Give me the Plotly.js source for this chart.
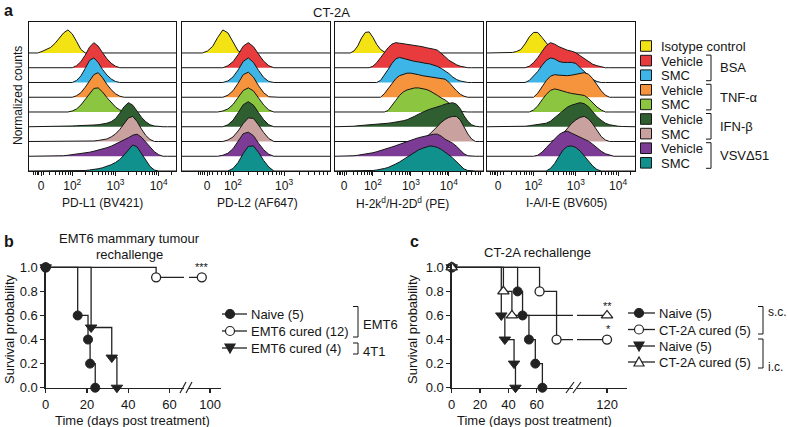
<!DOCTYPE html>
<html><head><meta charset="utf-8">
<script src="https://cdn.plot.ly/plotly-3.0.1.min.js"></script>
<style>html,body{margin:0;padding:0;background:#fff}</style>
</head><body><div id="chart" style="width:788px;height:427px"></div>
<script>
// ---------- Panel a: flow cytometry histograms (normalized counts, % of max) ----------
const rowLabels = ['Isotype control','Vehicle','SMC','Vehicle','SMC','Vehicle','SMC','Vehicle','SMC'];
const treatments = ['BSA','TNF-α','IFN-β','VSVΔ51'];
const rowColors = ['#f3e314','#e73b3e','#3db5e6','#f6933d','#8cc540','#2f5f30','#c9a19e','#7c3c95','#11918d'];
const markerNames = ['PD-L1 (BV421)','PD-L2 (AF647)','H-2k<sup>d</sup>/H-2D<sup>d</sup> (PE)','I-A/I-E (BV605)'];
const tickText = ['0','10<sup>2</sup>','10<sup>3</sup>','10<sup>4</sup>'];

// bins in decades of fluorescence (10^bin)
const pdl1Bins = [1.0,1.1,1.2,1.3,1.4,1.5,1.6,1.7,1.8,1.9,2.0,2.1,2.2,2.3,2.4,2.5,2.6,2.7,2.8,2.9,3.0,3.1,3.2,3.3,3.4,3.5,3.6,3.7,3.8,3.9,4.0,4.1,4.2,4.3,4.4];
const pdl1Counts = [
 [0,0,0,6,14,22,38,58,80,92,76,46,14,0,0,0,0,0,0,0,0,0,0,0,0,0,0,0,0,0,0,0,0,0,0],
 [0,0,0,0,0,0,0,0,0,0,0,8,24,50,82,100,86,60,36,18,6,0,0,0,0,0,0,0,0,0,0,0,0,0,0],
 [0,0,0,0,0,0,0,0,0,0,0,8,26,56,88,98,80,52,30,14,4,0,0,0,0,0,0,0,0,0,0,0,0,0,0],
 [0,0,0,0,0,0,0,0,0,0,0,6,18,40,66,90,98,78,52,30,14,4,0,0,0,0,0,0,0,0,0,0,0,0,0],
 [0,0,0,0,0,0,0,0,0,0,4,12,28,50,76,94,96,80,58,38,20,8,2,0,0,0,0,0,0,0,0,0,0,0,0],
 [0,0,0,0,0,0,0,2,2,3,3,4,4,5,6,7,8,10,14,20,32,54,80,96,86,62,38,20,8,3,0,0,0,0,0],
 [0,0,0,0,0,0,0,0,0,0,0,0,0,0,0,2,4,6,10,18,30,48,72,94,100,80,50,24,8,0,0,0,0,0,0],
 [0,0,0,0,0,0,0,0,2,4,6,8,10,13,16,20,24,28,34,40,48,56,64,74,84,88,76,56,34,18,6,0,0,0,0],
 [0,0,0,0,0,0,0,0,0,0,0,0,1,2,4,6,9,13,18,25,34,46,64,86,104,96,70,42,18,4,0,0,0,0,0]
];
const pdl2Bins = [1.0,1.1,1.2,1.3,1.4,1.5,1.6,1.7,1.8,1.9,2.0,2.1,2.2,2.3,2.4,2.5,2.6,2.7,2.8,2.9,3.0,3.1,3.2,3.3,3.4,3.5,3.6,3.7,3.8,3.9];
const pdl2Counts = [
 [0,0,0,0,0,8,26,62,92,80,44,8,0,0,0,0,0,0,0,0,0,0,0,0,0,0,0,0,0,0],
 [0,0,0,0,0,0,0,0,0,8,24,52,86,100,84,54,26,8,0,0,0,0,0,0,0,0,0,0,0,0],
 [0,0,0,0,0,0,0,0,0,6,22,50,84,98,80,48,20,4,0,0,0,0,0,0,0,0,0,0,0,0],
 [0,0,0,0,0,0,0,0,0,8,26,56,90,100,80,46,18,2,0,0,0,0,0,0,0,0,0,0,0,0],
 [0,0,0,0,0,0,0,0,4,12,30,58,86,96,84,56,28,8,0,0,0,0,0,0,0,0,0,0,0,0],
 [0,0,0,0,0,0,0,0,0,8,26,56,88,100,86,56,28,8,0,0,0,0,0,0,0,0,0,0,0,0],
 [0,0,0,0,0,0,0,0,0,6,18,42,72,94,92,66,36,12,0,0,0,0,0,0,0,0,0,0,0,0],
 [0,0,0,0,0,0,0,0,4,12,30,60,90,96,82,52,26,8,0,0,0,0,0,0,0,0,0,0,0,0],
 [0,0,0,0,0,0,0,0,0,0,10,34,70,98,100,74,42,16,0,0,0,0,0,0,0,0,0,0,0,0]
];
const h2Bins = [1.0,1.1,1.2,1.3,1.4,1.5,1.6,1.7,1.8,1.9,2.0,2.1,2.2,2.3,2.4,2.5,2.6,2.7,2.8,2.9,3.0,3.1,3.2,3.3,3.4,3.5,3.6,3.7,3.8,3.9,4.0,4.1,4.2,4.3,4.4,4.5,4.6,4.7,4.8,4.9];
const h2Counts = [
 [0,0,0,0,0,8,28,60,82,84,62,34,14,4,0,0,0,0,0,0,0,0,0,0,0,0,0,0,0,0,0,0,0,0,0,0,0,0,0,0],
 [0,0,0,0,0,0,0,0,0,0,6,20,40,60,80,94,100,98,96,92,90,88,86,84,80,78,74,70,58,44,30,20,12,6,2,0,0,0,0,0],
 [0,0,0,0,0,0,0,0,0,0,0,0,8,28,52,76,94,100,96,90,86,84,82,78,76,74,70,64,56,46,36,22,12,6,2,0,0,0,0,0],
 [0,0,0,0,0,0,0,0,0,0,0,0,0,14,34,56,74,86,92,96,96,94,90,86,84,82,80,78,76,72,60,42,26,12,4,0,0,0,0,0],
 [0,0,0,0,0,0,0,0,0,0,0,0,0,0,6,24,46,66,80,88,92,96,96,94,90,84,76,66,56,48,36,20,8,2,0,0,0,0,0,0],
 [0,0,0,0,0,2,4,5,6,7,8,9,10,12,14,16,18,21,24,28,34,42,50,58,64,70,74,80,84,90,94,96,90,72,44,22,8,2,0,0],
 [0,0,0,0,0,0,0,0,0,0,0,0,0,0,0,0,0,0,0,0,0,0,4,10,18,30,46,62,76,88,96,100,100,86,60,30,10,0,0,0],
 [0,0,0,0,0,2,4,6,8,11,14,18,22,27,32,37,42,48,54,59,64,69,74,78,82,86,88,88,80,68,60,52,40,24,10,2,0,0,0,0],
 [0,0,0,0,0,0,0,0,0,1,2,4,6,10,14,20,28,36,46,56,66,76,84,90,96,100,98,94,86,76,64,52,38,22,8,2,0,0,0,0]
];
const iaBins = [0.9,1.0,1.1,1.2,1.3,1.4,1.5,1.6,1.7,1.8,1.9,2.0,2.1,2.2,2.3,2.4,2.5,2.6,2.7,2.8,2.9,3.0,3.1,3.2,3.3,3.4,3.5,3.6,3.7,3.8,3.9,4.0,4.1,4.2,4.3,4.4];
const iaCounts = [
 [0,0,0,0,0,0,2,6,14,36,64,82,82,62,40,20,6,0,0,0,0,0,0,0,0,0,0,0,0,0,0,0,0,0,0,0],
 [0,0,0,0,0,0,0,0,0,0,6,20,40,64,88,100,94,84,76,70,66,60,48,36,24,14,8,4,0,0,0,0,0,0,0,0],
 [0,0,0,0,0,0,0,0,0,0,8,24,44,68,88,98,94,84,80,80,80,76,60,40,24,12,4,0,0,0,0,0,0,0,0,0],
 [0,0,0,0,0,0,0,0,0,0,0,0,16,40,66,84,90,88,86,86,88,92,96,98,92,74,50,26,8,0,0,0,0,0,0,0],
 [0,0,0,0,0,0,0,0,0,0,0,8,24,48,70,86,92,88,82,78,74,72,70,66,54,36,20,8,0,0,0,0,0,0,0,0],
 [0,0,0,0,0,0,0,0,0,2,4,6,8,11,14,22,36,52,66,78,86,92,96,92,80,60,40,26,14,8,4,2,1,0,0,0],
 [0,0,0,0,0,0,0,0,0,0,0,0,0,0,0,0,6,16,32,54,72,86,96,100,90,70,44,20,6,0,0,0,0,0,0,0],
 [0,0,0,0,0,0,0,0,0,0,0,0,4,16,34,52,70,86,96,100,92,84,76,70,60,48,34,20,10,4,0,0,0,0,0,0],
 [0,0,0,0,0,0,0,0,0,0,0,0,0,0,0,10,30,58,84,98,100,94,80,60,38,20,6,0,0,0,0,0,0,0,0,0]
];

// ---------- Panel b: EMT6 rechallenge (Kaplan-Meier) ----------
const bNaiveDays = [0, 15.5, 20.5, 21.5, 24];
const bNaiveSurv = [1, 0.6, 0.4, 0.2, 0];
const bCured12Days = [0, 53.5, 96];
const bCured12Surv = [1, 0.917, 0.917];
const bCured4Days = [0, 22, 32, 34.5];
const bCured4Surv = [1, 0.5, 0.25, 0];
const bLegendNames = ['Naive (5)', 'EMT6 cured (12)', 'EMT6 cured (4)'];

// ---------- Panel c: CT-2A rechallenge ----------
const cNaiveScDays = [0, 46.5, 50, 54.5, 59, 64];
const cNaiveScSurv = [1, 0.8, 0.6, 0.4, 0.2, 0];
const cCuredScDays = [0, 62, 74, 120];
const cCuredScSurv = [1, 0.8, 0.4, 0.4];
const cNaiveIcDays = [0, 35, 37.5, 44, 45];
const cNaiveIcSurv = [1, 0.6, 0.4, 0.2, 0];
const cCuredIcDays = [0, 36.5, 42.5, 120];
const cCuredIcSurv = [1, 0.8, 0.6, 0.6];
const cLegendNames = ['Naive (5)', 'CT-2A cured (5)', 'Naive (5)', 'CT-2A cured (5)'];

// ================= drawing =================
const W = 788, H = 427;
const px = x => x / W;
const py = y => 1 - y / H;
const FONT = 'Liberation Sans, Arial, Helvetica, sans-serif';
const INK = '#151515';

const traces = [];
const shapes = [];
const annotations = [];
const layout = {
  width: W, height: H, margin: {l: 0, r: 0, t: 0, b: 0},
  paper_bgcolor: '#fff', plot_bgcolor: 'rgba(0,0,0,0)',
  font: {family: FONT, size: 13, color: INK},
  showlegend: false, hovermode: false
};

function ann(text, x, y, opts) {
  annotations.push(Object.assign({text, x: px(x), y: py(y), xref: 'paper', yref: 'paper',
    showarrow: false, xanchor: 'center', yanchor: 'middle', font: {size: 13, color: INK}}, opts || {}));
}

// panel a layout
const panelsA = [
  {bins: pdl1Bins, counts: pdl1Counts, left: 29, right: 176, range: [1.0, 4.4], zero: 1.28, titleX: 102},
  {bins: pdl2Bins, counts: pdl2Counts, left: 182, right: 330, range: [1.0, 3.9], zero: 1.49, titleX: 257},
  {bins: h2Bins, counts: h2Counts, left: 335, right: 483, range: [1.0, 4.9], zero: 1.24, titleX: 402},
  {bins: iaBins, counts: iaCounts, left: 487, right: 635, range: [0.9, 4.4], zero: 1.16, titleX: 566}
];
const ridgeScale = 1.7 / 100, nRows = 9;
panelsA.forEach((p, pi) => {
  const s = pi === 0 ? '' : String(pi + 1);
  p.counts.forEach((row, ri) => {
    const base = nRows - 1 - ri;
    traces.push({type: 'scatter', mode: 'lines', x: p.bins, y: row.map(v => base + v * ridgeScale),
      fill: 'toself', fillcolor: rowColors[ri], line: {color: INK, width: 1},
      xaxis: 'x' + s, yaxis: 'y' + s, showlegend: false, hoverinfo: 'skip', name: rowLabels[ri]});
  });
  const major = [p.zero, 2, 3, 4].filter(v => v <= p.range[1]);
  const minor = [];
  for (let n = 1; n <= 4; n++) for (let m = 2; m <= 9; m++) {
    const v = n + Math.log10(m);
    if (v > p.zero + 0.05 && v < p.range[1]) minor.push(v);
  }
  [-0.17, -0.13, -0.09, -0.05, 0.05].forEach(o => minor.push(p.zero + o));
  layout['xaxis' + s] = {domain: [px(p.left), px(p.right)], range: p.range, anchor: 'y' + s,
    showline: true, mirror: true, linecolor: INK, linewidth: 1, showgrid: false, zeroline: false,
    ticks: 'outside', ticklen: 4, tickwidth: 1, tickcolor: INK, tickmode: 'array',
    tickvals: major, ticktext: tickText.slice(0, major.length), tickfont: {size: 12, color: INK},
    minor: {tickmode: 'array', tickvals: minor, ticks: 'outside', ticklen: 2.5, tickwidth: 1, tickcolor: INK, showgrid: false},
    fixedrange: true};
  layout['yaxis' + s] = {domain: [py(171), py(22)], range: [0, 10.1], anchor: 'x' + s,
    showline: true, mirror: true, linecolor: INK, linewidth: 1, showgrid: false, zeroline: false,
    showticklabels: false, ticks: '', fixedrange: true};
  ann(markerNames[pi], p.titleX, 203, {font: {size: 12, color: INK}});
});
ann('<b>a</b>', 2, 10, {xanchor: 'left', font: {size: 16, color: INK}});
ann('CT-2A', 331, 12);
ann('Normalized counts', 18, 96, {textangle: -90, font: {size: 12, color: INK}});

// panel a legend (colour keys)
const keyY = [46, 60.6, 75.2, 89.8, 104.4, 119, 133.6, 148.2, 162.8];
rowLabels.forEach((lab, i) => {
  shapes.push({type: 'rect', xref: 'paper', yref: 'paper', x0: px(640.5), x1: px(651.5),
    y0: py(keyY[i] + 5.3), y1: py(keyY[i] - 5.3), fillcolor: rowColors[i], line: {color: INK, width: 1}});
  ann(lab, 659, keyY[i] + 0.5, {xanchor: 'left'});
});
treatments.forEach((t, g) => {
  const yTop = keyY[1 + 2 * g] - 5.5, yBot = keyY[2 + 2 * g] + 5.5;
  shapes.push({type: 'path', xref: 'paper', yref: 'paper',
    path: `M${px(706)},${py(yTop)} L${px(711)},${py(yTop)} L${px(711)},${py(yBot)} L${px(706)},${py(yBot)}`,
    line: {color: INK, width: 1}});
  ann(t, 718, (keyY[1 + 2 * g] + keyY[2 + 2 * g]) / 2, {xanchor: 'left'});
});

// ---------- survival panels ----------
const LINE = '#222';
const styles = {
  filledCircle: {symbol: 'circle', size: 9, color: LINE, line: {color: LINE, width: 1}},
  openCircle: {symbol: 'circle', size: 9, color: '#fff', line: {color: LINE, width: 1.3}},
  filledDown: {symbol: 'triangle-down', size: 10, color: LINE, line: {color: LINE, width: 1}},
  openUp: {symbol: 'triangle-up', size: 10, color: '#fff', line: {color: LINE, width: 1.3}}
};

function kmSeries(name, days, surv, mk, xa1, xa2, ya, r1, r2) {
  const in1 = days.map((d, i) => d <= r1[1] ? i : -1).filter(i => i >= 0);
  const in2 = days.map((d, i) => d >= r2[0] ? i : -1).filter(i => i >= 0);
  const base = {type: 'scatter', name, line: {color: LINE, width: 1.3, shape: 'hv'}, marker: mk, yaxis: ya,
    cliponaxis: false, hoverinfo: 'skip', showlegend: false};
  traces.push(Object.assign({}, base, {mode: 'lines', x: days, y: surv, xaxis: xa1}));
  traces.push(Object.assign({}, base, {mode: 'lines', x: days, y: surv, xaxis: xa2}));
  traces.push(Object.assign({}, base, {mode: 'markers', x: in1.map(i => days[i]), y: in1.map(i => surv[i]), xaxis: xa1}));
  if (in2.length) traces.push(Object.assign({}, base, {mode: 'markers', x: in2.map(i => days[i]), y: in2.map(i => surv[i]), xaxis: xa2}));
}

function survAxes(sx, sx2, sy, x0, xBreak1, xBreak2, xEnd, r1, r2, tick1, tick2) {
  const common = {showline: true, linecolor: LINE, linewidth: 1.3, showgrid: false, zeroline: false,
    ticks: 'outside', ticklen: 4, tickwidth: 1.3, tickcolor: LINE, tickfont: {size: 13, color: INK}, fixedrange: true};
  layout['xaxis' + sx] = Object.assign({}, common, {domain: [px(x0), px(xBreak1)], range: r1, anchor: 'y' + sy,
    tickmode: 'array', tickvals: tick1});
  layout['xaxis' + sx2] = Object.assign({}, common, {domain: [px(xBreak2), px(xEnd)], range: r2, anchor: 'y' + sy,
    tickmode: 'array', tickvals: tick2});
  layout['yaxis' + sy] = Object.assign({}, common, {domain: [py(387.7), py(263.7)], range: [0, 1.03], anchor: 'x' + sx,
    tickmode: 'array', tickvals: [0, 0.2, 0.4, 0.6, 0.8, 1.0], ticktext: ['0.0', '0.2', '0.4', '0.6', '0.8', '1.0']});
}

// panel b (draw order puts filled circles on top)
const bR1 = [0, 67], bR2 = [89.8, 105.3];
survAxes('5', '6', '5', 45.7, 184, 189, 221, bR1, bR2, [0, 20, 40, 60], [100]);
kmSeries(bLegendNames[2], bCured4Days, bCured4Surv, styles.filledDown, 'x5', 'x6', 'y5', bR1, bR2);
kmSeries(bLegendNames[1], bCured12Days, bCured12Surv, styles.openCircle, 'x5', 'x6', 'y5', bR1, bR2);
kmSeries(bLegendNames[0], bNaiveDays, bNaiveSurv, styles.filledCircle, 'x5', 'x6', 'y5', bR1, bR2);

// panel c
const cR1 = [0, 85.6], cR2 = [98.8, 133.9];
survAxes('7', '8', '7', 451.7, 573, 577, 626.7, cR1, cR2, [0, 20, 40, 60], [120]);
kmSeries(cLegendNames[0], cNaiveScDays, cNaiveScSurv, styles.filledCircle, 'x7', 'x8', 'y7', cR1, cR2);
kmSeries(cLegendNames[1], cCuredScDays, cCuredScSurv, styles.openCircle, 'x7', 'x8', 'y7', cR1, cR2);
kmSeries(cLegendNames[2], cNaiveIcDays, cNaiveIcSurv, styles.filledDown, 'x7', 'x8', 'y7', cR1, cR2);
kmSeries(cLegendNames[3], cCuredIcDays, cCuredIcSurv, styles.openUp, 'x7', 'x8', 'y7', cR1, cR2);

// legend keys for b and c (line + symbol + label)
function keySymbol(kind, xm, y) {
  const fill = (kind === 'openCircle' || kind === 'openUp') ? '#fff' : LINE;
  const line = {color: LINE, width: 1.2};
  if (kind === 'filledCircle' || kind === 'openCircle') {
    shapes.push({type: 'circle', xref: 'paper', yref: 'paper', x0: px(xm - 4.5), x1: px(xm + 4.5),
      y0: py(y + 4.5), y1: py(y - 4.5), fillcolor: fill, line});
  } else if (kind === 'filledDown') {
    shapes.push({type: 'path', xref: 'paper', yref: 'paper', fillcolor: fill, line,
      path: `M${px(xm - 5)},${py(y - 4)} L${px(xm + 5)},${py(y - 4)} L${px(xm)},${py(y + 5)} Z`});
  } else {
    shapes.push({type: 'path', xref: 'paper', yref: 'paper', fillcolor: fill, line,
      path: `M${px(xm - 5)},${py(y + 4)} L${px(xm + 5)},${py(y + 4)} L${px(xm)},${py(y - 5)} Z`});
  }
}
function legendKeys(names, kinds, rows, x0, x1, xm, xt) {
  names.forEach((n, i) => {
    shapes.push({type: 'line', xref: 'paper', yref: 'paper', x0: px(x0), x1: px(x1), y0: py(rows[i]), y1: py(rows[i]),
      line: {color: LINE, width: 1.3}});
    keySymbol(kinds[i], xm, rows[i]);
    ann(n, xt, rows[i] + 0.5, {xanchor: 'left'});
  });
}
const bRows = [314, 331, 348];
const cRows = [313, 329.5, 346, 362];
legendKeys(bLegendNames, ['filledCircle', 'openCircle', 'filledDown'], bRows, 222, 247, 230, 249);
legendKeys(cLegendNames, ['filledCircle', 'openCircle', 'filledDown', 'openUp'], cRows, 628, 655, 639, 657);

// axis break marks
[[180, 186], [186, 192], [566, 574], [573, 581]].forEach(([a, b]) => {
  shapes.push({type: 'line', xref: 'paper', yref: 'paper', x0: px(a), y0: py(393), x1: px(b), y1: py(382),
    line: {color: LINE, width: 1.2}});
});

// legend group brackets (b, c)
function bracket(x, yTop, yBot, label, ly, fs) {
  shapes.push({type: 'path', xref: 'paper', yref: 'paper',
    path: `M${px(x - 5)},${py(yTop)} L${px(x)},${py(yTop)} L${px(x)},${py(yBot)} L${px(x - 5)},${py(yBot)}`,
    line: {color: INK, width: 1}});
  ann(label, x + 3, ly, {xanchor: 'left', font: {size: fs || 13, color: INK}});
}
bracket(358, 306.5, 337, 'EMT6', 324);
bracket(358, 343, 354, '4T1', 351.5);
bracket(763, 306.5, 334, 's.c.', 312, 12);
bracket(763, 339, 368, 'i.c.', 367, 12);

// titles / labels for b and c
ann('<b>b</b>', 2, 242, {xanchor: 'left', font: {size: 16, color: INK}});
ann('<b>c</b>', 408, 242, {xanchor: 'left', font: {size: 16, color: INK}});
ann('EMT6 mammary tumour', 129, 239);
ann('rechallenge', 129, 254);
ann('CT-2A rechallenge', 537, 252);
ann('Survival probability', 9, 329, {textangle: -90});
ann('Survival probability', 412, 329, {textangle: -90});
ann('Time (days post treatment)', 132.5, 420);
ann('Time (days post treatment)', 534, 420);
ann('***', 201.7, 267, {font: {size: 11, color: INK}});
ann('**', 607, 306, {font: {size: 11, color: INK}});
ann('*', 608, 329, {font: {size: 11, color: INK}});

layout.shapes = shapes;
layout.annotations = annotations;
Plotly.newPlot('chart', traces, layout, {displayModeBar: false, staticPlot: true});
</script></body></html>
